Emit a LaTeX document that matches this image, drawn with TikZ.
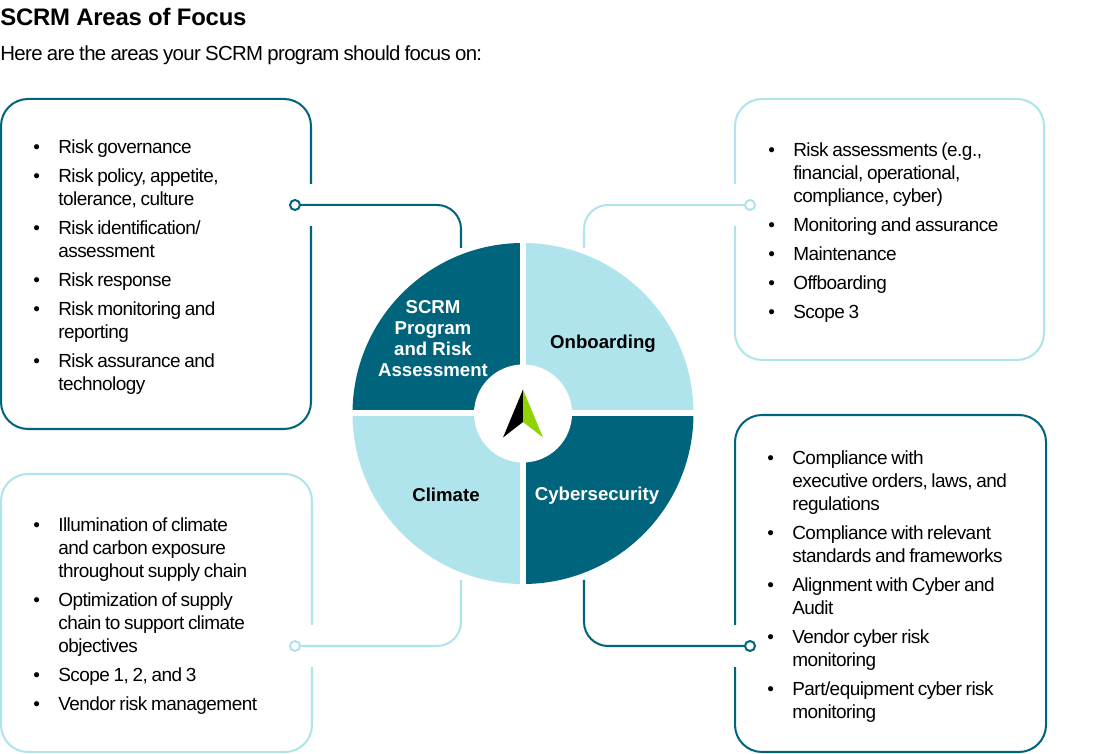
\documentclass[tikz,border=0pt]{standalone}
\usepackage{fontspec}
\setmainfont{Liberation Sans}
\newfontfamily\listfamily[LetterSpace=-2.8]{Liberation Sans}
\newfontfamily\introfamily[LetterSpace=-3.2,WordSpace=0.85]{Liberation Sans}
\usepackage{xcolor}
\usetikzlibrary{calc}
\definecolor{areadark}{HTML}{00647D}
\definecolor{arealight}{HTML}{AFE4EC}
\definecolor{arrowgreen}{HTML}{8FD400}
\newcommand{\bodyfont}{\listfamily\fontsize{10.8pt}{13.1pt}\selectfont\spaceskip=2.1pt\relax}
\newcommand{\wheelfont}{\fontsize{10.6pt}{12pt}\selectfont\bfseries}
\newenvironment{arealist}{\bodyfont\begin{list}{\textbullet}{\setlength{\topsep}{0pt}\setlength{\partopsep}{0pt}\setlength{\parsep}{0pt}\setlength{\itemsep}{3.4pt}\setlength{\leftmargin}{14.2pt}\setlength{\labelwidth}{14.2pt}\setlength{\labelsep}{0pt}\renewcommand{\makelabel}[1]{##1\hfill}}}{\end{list}}

\begin{document}
\begin{tikzpicture}
\useasboundingbox (0,0) rectangle (22.12,15.08);
%%%%%%%%%%%%%%%%%%%%%%%%%%%%%%%%%%%%%%%%%%%%%%%%%%%%%%%%%%%%%%
%styles
\tikzstyle{areabox}=[rectangle,rounded corners=0.54cm,line width=1.15pt,inner sep=0pt]
\tikzstyle{boxgap}=[rectangle,fill=white,minimum width=0.15cm,minimum height=0.84cm,inner sep=0pt]
\tikzstyle{linkdot}=[circle,fill=white,minimum size=0.2cm,inner sep=0pt,line width=1.15pt]
\tikzstyle{linkline}=[rounded corners=0.48cm,line width=1.15pt]
\tikzstyle{arealabel}=[align=center,inner sep=0pt,font=\wheelfont]
\tikzstyle{listtext}=[anchor=north west,text width=5.6cm,inner sep=0pt]
%%%%%%%%%%%%%%%%%%%%%%%%%%%%%%%%%%%%%%%%%%%%%%%%%%%%%%%%%%%%%%
%title
\node[anchor=base west,inner sep=0pt,font=\addfontfeatures{LetterSpace=-1}\fontsize{13.6pt}{15pt}\selectfont\bfseries] (title) at (0,14.57) {SCRM Areas of Focus};
\node[anchor=base west,inner sep=0pt,font=\introfamily\fontsize{11.6pt}{14pt}\selectfont] (intro) at (0,13.86) {Here are the areas your SCRM program should focus on:};
%boxes
\node[areabox,draw=areadark,minimum width=6.2cm,minimum height=6.6cm] (govbox) at (3.12,9.8) {};
\node[areabox,draw=arealight,minimum width=6.18cm,minimum height=5.22cm] (onbox) at (17.79,10.49) {};
\node[areabox,draw=arealight,minimum width=6.22cm,minimum height=5.56cm] (climbox) at (3.13,2.82) {};
\node[areabox,draw=areadark,minimum width=6.22cm,minimum height=6.74cm] (cybbox) at (17.81,3.41) {};
%link ends
\coordinate (govend) at (9.22,10.12);
\coordinate (onend) at (11.68,10.12);
\coordinate (climend) at (9.22,3.48);
\coordinate (cybend) at (11.68,3.48);
\coordinate (govdot) at (5.9,10.98);
\coordinate (ondot) at (15,10.98);
\coordinate (climdot) at (5.9,2.16);
\coordinate (cybdot) at (15,2.16);
%gaps in the box edges
\node[boxgap] (govgap) at (govbox.east |- govdot) {};
\node[boxgap] (ongap) at (onbox.west |- ondot) {};
\node[boxgap] (climgap) at (climbox.east |- climdot) {};
\node[boxgap] (cybgap) at (cybbox.west |- cybdot) {};
%%%%%%%%%%%%%%%%%%%%%%%%%%%%%%%%%%%%%%%%%%%%%%%%%%%%%%%%%%%%%%
%LINKS
\draw[linkline,draw=areadark] (govdot) -| (govend);
\draw[linkline,draw=arealight] (ondot) -| (onend);
\draw[linkline,draw=arealight] (climdot) -| (climend);
\draw[linkline,draw=areadark] (cybdot) -| (cybend);
\node[linkdot,draw=areadark] (govpin) at (govdot) {};
\node[linkdot,draw=arealight] (onpin) at (ondot) {};
\node[linkdot,draw=arealight] (climpin) at (climdot) {};
\node[linkdot,draw=areadark] (cybpin) at (cybdot) {};
%%%%%%%%%%%%%%%%%%%%%%%%%%%%%%%%%%%%%%%%%%%%%%%%%%%%%%%%%%%%%%
%wheel
\coordinate (mid) at (10.46,6.81);
\foreach \a/\c in {90/areadark,0/arealight,270/areadark,180/arealight}
  \fill[\c] (mid) -- ++(\a:3.41) arc (\a:\a+90:3.41) -- cycle;
\draw[white,line width=0.12cm] ($(mid)+(-3.5,0)$) -- ($(mid)+(3.5,0)$);
\draw[white,line width=0.12cm] ($(mid)+(0,-3.5)$) -- ($(mid)+(0,3.5)$);
\node[circle,fill=white,minimum size=1.96cm,inner sep=0pt] (hub) at (mid) {};
%arrow
\fill[black] (10.46,7.29) -- (10.06,6.33) -- (10.46,6.64) -- cycle;
\fill[arrowgreen] (10.46,7.29) -- (10.86,6.33) -- (10.46,6.64) -- cycle;
%labels
\node[arealabel,text=white] (govlabel) at (8.66,8.31) {SCRM\\Program\\and Risk\\Assessment};
\node[arealabel] (onlabel) at (12.06,8.2) {Onboarding};
\node[arealabel] (climlabel) at (8.92,5.18) {Climate};
\node[arealabel,text=white] (cyblabel) at (11.94,5.16) {Cybersecurity};
%%%%%%%%%%%%%%%%%%%%%%%%%%%%%%%%%%%%%%%%%%%%%%%%%%%%%%%%%%%%%%
%lists
\node[listtext] (govlist) at (0.66,12.47) {\begin{arealist}
\item Risk governance
\item Risk policy, appetite,\\tolerance, culture
\item Risk identification/\\assessment
\item Risk response
\item Risk monitoring and\\reporting
\item Risk assurance and\\technology
\end{arealist}};
\node[listtext] (onlist) at (15.36,12.41) {\begin{arealist}
\item Risk assessments (e.g.,\\financial, operational,\\compliance, cyber)
\item Monitoring and assurance
\item Maintenance
\item Offboarding
\item Scope 3
\end{arealist}};
\node[listtext] (climlist) at (0.66,4.91) {\begin{arealist}
\item Illumination of climate\\and carbon exposure\\throughout supply chain
\item Optimization of supply\\chain to support climate\\objectives
\item Scope 1, 2, and 3
\item Vendor risk management
\end{arealist}};
\node[listtext] (cyblist) at (15.34,6.25) {\begin{arealist}
\item Compliance with\\executive orders, laws, and\\regulations
\item Compliance with relevant\\standards and frameworks
\item Alignment with Cyber and\\Audit
\item Vendor cyber risk\\monitoring
\item Part/equipment cyber risk\\monitoring
\end{arealist}};
\end{tikzpicture}
\end{document}
